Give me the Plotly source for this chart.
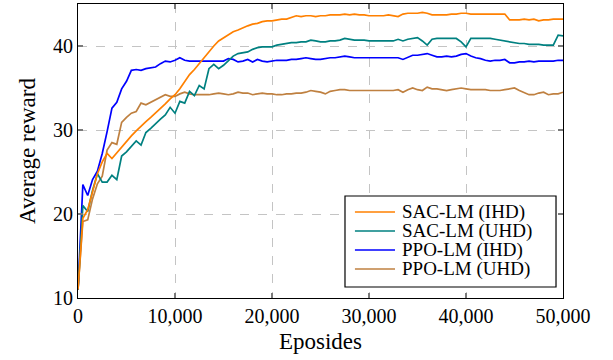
import plotly.graph_objects as go

episodes = list(range(0, 50001, 500))

sac_ihd = [11, 19.5, 20.5, 22.5, 24.8, 26.2, 27.2, 26.6, 27.3, 28.0,
           28.7, 29.3, 29.9, 30.5, 31.0, 31.5, 32.0, 32.6, 33.1, 33.7,
           34.2, 34.9, 35.8, 36.6, 37.2, 37.9, 38.6, 39.4, 40.0, 40.6,
           41.0, 41.4, 41.7, 41.9, 42.2, 42.4, 42.6, 42.7, 42.9, 43.0,
           43.0, 43.1, 43.2, 43.2, 43.4, 43.6, 43.5, 43.6, 43.6, 43.5,
           43.6, 43.6, 43.7, 43.7, 43.7, 43.8, 43.7, 43.8, 43.7, 43.7,
           43.6, 43.6, 43.6, 43.6, 43.7, 43.6, 43.5, 43.8, 43.9, 43.9,
           43.9, 44.0, 43.9, 43.7, 43.7, 43.7, 43.7, 43.8, 43.8, 43.9,
           43.9, 43.8, 43.8, 43.8, 43.8, 43.8, 43.8, 43.8, 43.8, 43.1,
           43.1, 43.1, 43.2, 43.1, 43.2, 43.0, 43.1, 43.1, 43.2, 43.2,
           43.2]

sac_uhd = [11, 21.0, 20.3, 22.8, 24.8, 23.8, 23.8, 24.6, 24.1, 26.9,
           27.4, 28.0, 28.7, 28.2, 29.7, 30.2, 30.8, 31.3, 31.8, 32.7,
           32.0, 33.4, 33.2, 34.6, 34.1, 35.3, 34.9, 37.3, 37.8, 37.3,
           37.7, 38.3, 38.8, 39.1, 39.2, 39.3, 39.6, 39.8, 39.9, 39.9,
           39.9, 40.1, 40.2, 40.3, 40.4, 40.4, 40.5, 40.5, 40.7, 40.6,
           40.5, 40.5, 40.6, 40.6, 40.7, 40.9, 40.8, 40.7, 40.7, 40.7,
           40.6, 40.6, 40.6, 40.6, 40.6, 40.6, 40.8, 40.6, 40.8, 40.9,
           41.0, 40.6, 40.1, 40.8, 40.9, 40.9, 40.9, 40.9, 40.9, 40.5,
           39.9, 40.9, 40.9, 40.9, 40.9, 40.9, 40.8, 40.7, 40.6, 40.5,
           40.4, 40.3, 40.3, 40.2, 40.2, 40.2, 40.1, 40.1, 40.1, 41.3,
           41.2]

ppo_ihd = [11, 23.5, 22.2, 24.1, 25.1, 27.2, 29.8, 32.6, 33.3, 34.9,
           35.8, 37.1, 37.2, 37.1, 37.3, 37.4, 37.5, 37.9, 38.2, 38.1,
           38.3, 38.6, 38.3, 38.2, 38.2, 38.2, 38.2, 38.2, 38.2, 38.2,
           38.2, 38.5, 38.4, 38.1, 38.2, 38.4, 38.1, 38.4, 38.2, 38.1,
           38.2, 38.3, 38.3, 38.3, 38.4, 38.4, 38.5, 38.6, 38.5, 38.4,
           38.4, 38.5, 38.6, 38.6, 38.7, 38.8, 38.7, 38.6, 38.6, 38.6,
           38.6, 38.6, 38.6, 38.6, 38.6, 38.6, 38.6, 38.4, 38.7, 38.9,
           38.9, 39.0, 39.1, 38.9, 38.7, 38.7, 38.8, 38.7, 38.8, 39.0,
           39.1, 38.8, 38.6, 38.5, 38.3, 38.2, 38.3, 38.3, 38.4, 38.0,
           38.0, 38.1, 38.1, 38.2, 38.1, 38.2, 38.2, 38.2, 38.2, 38.3,
           38.3]

ppo_uhd = [11, 19.1, 19.3, 21.8, 23.6, 24.5, 27.6, 28.5, 28.3, 30.9,
           31.5, 32.0, 32.2, 33.2, 33.0, 33.3, 33.6, 33.8, 34.2, 34.0,
           34.0, 34.3, 34.5, 34.3, 34.2, 34.2, 34.2, 34.2, 34.3, 34.4,
           34.3, 34.2, 34.3, 34.5, 34.4, 34.4, 34.2, 34.3, 34.4, 34.3,
           34.3, 34.2, 34.2, 34.3, 34.3, 34.4, 34.4, 34.5, 34.7, 34.6,
           34.5, 34.3, 34.6, 34.7, 34.8, 34.8, 34.7, 34.7, 34.7, 34.7,
           34.7, 34.7, 34.7, 34.7, 34.7, 34.7, 34.8, 34.5, 34.8, 35.0,
           34.8, 34.7, 35.1, 34.9, 34.9, 34.8, 34.7, 34.8, 34.9, 35.0,
           34.9, 34.8, 34.8, 34.8, 34.8, 34.7, 34.7, 34.7, 34.8, 34.9,
           35.0, 34.7, 34.4, 34.2, 34.2, 34.4, 34.5, 34.2, 34.3, 34.3,
           34.5]

series_names = ["SAC-LM (IHD)", "SAC-LM (UHD)", "PPO-LM (IHD)", "PPO-LM (UHD)"]
series_values = [sac_ihd, sac_uhd, ppo_ihd, ppo_uhd]
series_colors = ["#ff8000", "#008080", "#0000ff", "#bf8040"]

x_ticks = [0, 10000, 20000, 30000, 40000, 50000]
y_ticks = [10, 20, 30, 40]

font_family = "Liberation Serif, Times New Roman, serif"

fig = go.Figure()
# draw PPO first so SAC-LM curves lie on top
for name, vals, color in reversed(list(zip(series_names, series_values, series_colors))):
    fig.add_trace(go.Scatter(x=episodes, y=vals, mode="lines", name=name,
                             showlegend=False,
                             line=dict(color=color, width=1.7)))

# legend box drawn in the plot's paper coordinates
box_x0, box_x1, box_y0, box_y1 = 0.5505, 0.9856, 0.0374, 0.3469
row_y = [0.2925, 0.2279, 0.1633, 0.0986]
line_x0, line_x1, text_x = 0.571, 0.6536, 0.664
shapes = [dict(type="rect", xref="paper", yref="paper", x0=box_x0, x1=box_x1,
               y0=box_y0, y1=box_y1, line=dict(color="black", width=1.2),
               fillcolor="white", layer="above")]
annotations = []
for name, color, yy in zip(series_names, series_colors, row_y):
    shapes.append(dict(type="line", xref="paper", yref="paper", x0=line_x0, x1=line_x1,
                       y0=yy, y1=yy, line=dict(color=color, width=1.7), layer="above"))
    annotations.append(dict(xref="paper", yref="paper", x=text_x, y=yy, text=name,
                            showarrow=False, xanchor="left", yanchor="middle",
                            font=dict(family=font_family, size=19, color="black")))

fig.update_layout(
    width=613, height=360,
    margin=dict(l=78, r=50, t=4, b=62, autoexpand=False),
    plot_bgcolor="white", paper_bgcolor="white",
    font=dict(family=font_family, size=20, color="black"),
    showlegend=False,
    shapes=shapes, annotations=annotations,
)
axis_common = dict(showline=True, linecolor="black", linewidth=1.2, mirror="ticks",
                   ticks="inside", ticklen=5, tickcolor="#7a7a7a", tickwidth=1.5,
                   showgrid=True, gridcolor="#c4c4c4", griddash="dash", gridwidth=1,
                   zeroline=False, tickfont=dict(family=font_family, size=20),
                   automargin=False)
fig.update_xaxes(range=[0, 50000], tickvals=x_ticks, tickformat=",d",
                 title=dict(text="Eposides", font=dict(size=23), standoff=6), **axis_common)
fig.update_yaxes(range=[10, 45], tickvals=y_ticks,
                 title=dict(text="Average reward", font=dict(size=23), standoff=10), **axis_common)

fig.write_html("out.html", config={"displayModeBar": False},
               post_script="document.body.style.margin='0px';")
